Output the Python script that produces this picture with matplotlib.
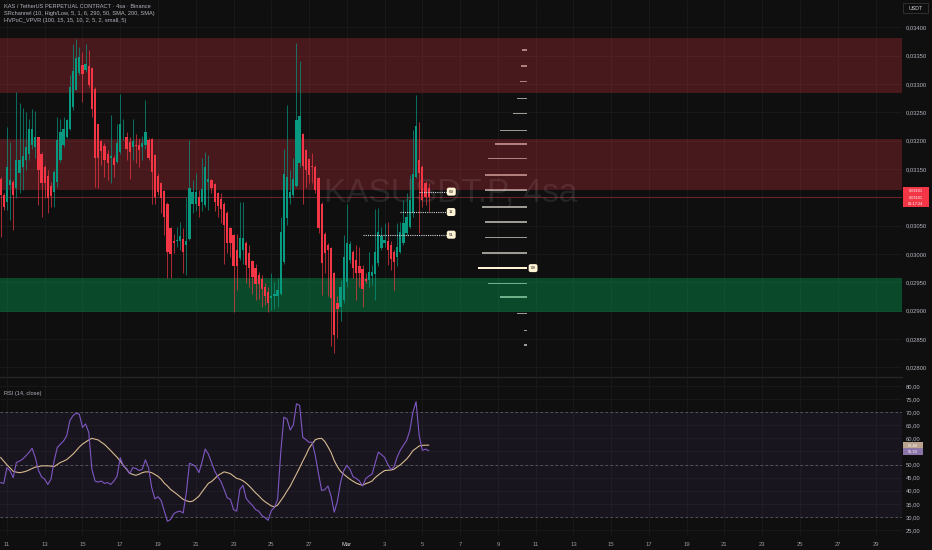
import numpy as np
import pandas as pd
import matplotlib
matplotlib.use("Agg")
import matplotlib.pyplot as plt
from matplotlib.patches import Rectangle
from matplotlib.lines import Line2D
from matplotlib.ticker import FuncFormatter

# KAS/USDT perp, 4h candles; prices in units of 0.00001 USDT
PRICE_UNIT = 1e-5
start_time = "2025-02-10 16:00"

opens = [3133, 3104, 3092, 3122, 3127, 3116, 3142, 3154, 3166, 3177,
         3192, 3189, 3206, 3177, 3153, 3138, 3120, 3110, 3127, 3166,
         3192, 3206, 3221, 3259, 3290, 3319, 3333, 3324, 3331, 3329,
         3292, 3229, 3200, 3190, 3176, 3169, 3169, 3163, 3180, 3206,
         3206, 3197, 3188, 3193, 3193, 3189, 3192, 3201, 3202, 3174,
         3138, 3125, 3111, 3089, 3046, 3023, 3022, 3023, 3027, 3016,
         3026, 3089, 3089, 3100, 3092, 3086, 3127, 3130, 3123, 3107,
         3097, 3089, 3072, 3046, 3033, 3007, 2992, 3007, 3020, 3001,
         2987, 2976, 2962, 2955, 2941, 2933, 2922, 2925, 2926, 2930,
         2985, 3063, 3098, 3104, 3120, 3160, 3211, 3184, 3167, 3155,
         3154, 3134, 3089, 3035, 3015, 3010, 2966, 2913, 2907, 2919,
         2951, 2989, 3004, 2989, 2979, 2974, 2956, 2954, 2961, 2965,
         2984, 3010, 3019, 3022, 3016, 3004, 2995, 3004, 3019, 3037,
         3048, 3072, 3136, 3166, 3153, 3125, 3116]
highs = [3136, 3107, 3224, 3197, 3130, 3286, 3266, 3257, 3251, 3239,
         3256, 3252, 3207, 3180, 3157, 3148, 3127, 3148, 3242, 3239,
         3241, 3239, 3316, 3371, 3380, 3366, 3357, 3371, 3360, 3330,
         3295, 3230, 3201, 3195, 3183, 3245, 3175, 3230, 3282, 3239,
         3216, 3207, 3239, 3212, 3204, 3209, 3272, 3204, 3204, 3177,
         3142, 3127, 3113, 3092, 3048, 3036, 3048, 3057, 3045, 3101,
         3201, 3130, 3142, 3113, 3169, 3180, 3175, 3133, 3125, 3110,
         3107, 3092, 3075, 3048, 3036, 3036, 3092, 3091, 3022, 3016,
         2989, 2983, 2969, 2963, 2948, 2942, 2966, 2951, 2957, 3066,
         3186, 3263, 3148, 3170, 3373, 3341, 3213, 3186, 3169, 3178,
         3157, 3136, 3092, 3039, 3019, 3013, 2969, 2925, 2954, 3034,
         3089, 3022, 3007, 3016, 3013, 2981, 2966, 3004, 2981, 3079,
         3081, 3048, 3054, 3057, 3022, 3007, 3054, 3057, 3095, 3107,
         3139, 3219, 3281, 3233, 3157, 3128, 3125]
lows = [3030, 3077, 3077, 3060, 3042, 3098, 3107, 3113, 3148, 3166,
        3186, 3169, 3086, 3066, 3098, 3072, 3083, 3083, 3119, 3163,
        3189, 3204, 3219, 3254, 3289, 3316, 3269, 3321, 3295, 3242,
        3119, 3116, 3157, 3136, 3130, 3125, 3136, 3160, 3177, 3201,
        3166, 3133, 3166, 3160, 3153, 3166, 3186, 3166, 3089, 3089,
        3104, 3072, 3033, 2957, 2957, 3001, 3013, 3007, 2966, 2963,
        3025, 3072, 3075, 3066, 3075, 3083, 3077, 3107, 3075, 3066,
        3054, 2983, 3001, 2995, 2898, 2936, 2989, 2983, 2948, 2942,
        2930, 2919, 2920, 2907, 2910, 2898, 2901, 2902, 2907, 2928,
        2983, 3051, 3089, 3101, 3119, 3154, 3089, 3119, 3125, 3125,
        3107, 3037, 2928, 2966, 2925, 2837, 2825, 2851, 2881, 2913,
        2942, 2984, 2957, 2919, 2942, 2907, 2948, 2942, 2945, 2919,
        2978, 3007, 3013, 2981, 2972, 2937, 2978, 3001, 3016, 3034,
        3045, 3066, 3134, 3037, 3083, 3087, 3075]
closes = [3104, 3083, 3154, 3130, 3104, 3166, 3166, 3173, 3189, 3220,
          3220, 3207, 3148, 3126, 3125, 3098, 3103, 3145, 3201, 3216,
          3220, 3236, 3295, 3323, 3345, 3347, 3317, 3336, 3298, 3256,
          3169, 3169, 3182, 3165, 3160, 3172, 3157, 3195, 3230, 3207,
          3186, 3180, 3200, 3190, 3184, 3195, 3216, 3169, 3145, 3101,
          3110, 3098, 3066, 3004, 3000, 3019, 3025, 3032, 3004, 3022,
          3116, 3109, 3109, 3085, 3114, 3154, 3133, 3116, 3092, 3085,
          3080, 3051, 3020, 3020, 2979, 2979, 3028, 3028, 2980, 2975,
          2959, 2947, 2947, 2939, 2925, 2913, 2926, 2930, 2936, 3039,
          3141, 3136, 3109, 3133, 3237, 3243, 3156, 3149, 3139, 3153,
          3113, 3045, 2984, 3001, 3007, 2922, 2857, 2902, 2942, 2995,
          3020, 3018, 2975, 2967, 2966, 2938, 2953, 2969, 2969, 3004,
          3039, 3031, 3024, 3007, 2991, 2985, 3013, 3038, 3054, 3066,
          3095, 3141, 3225, 3142, 3095, 3101, 3101]

# SRchannel zones (low, high)
red_zones = [(3285, 3382), (3114, 3202)]
green_zones = [(2897, 2958)]

# HVPoC_VPVR profile rows
vp_prices = [3360, 3332, 3304, 3274, 3248, 3218, 3194, 3168, 3139, 3113,
             3083, 3056, 3029, 3002, 2975, 2948, 2924, 2895, 2865, 2839]
vp_volume = [5, 6, 7, 10, 13, 26, 31, 38, 41, 41,
             44, 41, 41, 44, 48, 38, 26, 10, 3, 3]

# dotted high-volume levels with their tags
pivot_prices = [3110, 3074, 3034]
pivot_start = [133, 127, 115]
pivot_tags = ["69", "11", "51"]
poc_tag = "09"

rsi = [43.1, 42.8, 48.8, 47.6, 45.0, 50.8, 51.3, 52.1, 53.3, 54.6,
       56.2, 52.7, 47.9, 45.3, 44.4, 42.4, 44.4, 51.4, 56.5, 57.8,
       59.0, 61.0, 66.8, 68.7, 69.6, 69.2, 64.2, 65.5, 62.3, 48.2,
       43.7, 43.3, 43.7, 42.8, 43.1, 42.4, 43.7, 45.6, 52.6, 49.5,
       48.5, 46.5, 48.8, 48.5, 47.7, 48.2, 51.8, 48.8, 41.2, 36.9,
       37.7, 36.3, 32.2, 28.3, 29.0, 31.2, 31.9, 32.2, 31.5, 39.2,
       50.5, 50.0, 49.2, 46.9, 51.0, 55.9, 54.0, 50.8, 47.6, 45.3,
       43.5, 40.5, 37.3, 36.7, 32.8, 32.2, 40.5, 42.1, 37.1, 35.6,
       34.4, 32.8, 32.2, 30.5, 29.7, 28.7, 32.4, 33.6, 36.7, 54.6,
       68.1, 67.4, 63.2, 65.1, 73.2, 72.6, 60.4, 59.5, 58.5, 58.5,
       53.3, 46.5, 40.1, 40.4, 41.8, 37.9, 31.8, 36.0, 43.1, 47.6,
       49.7, 48.2, 45.3, 44.7, 43.7, 41.8, 44.6, 45.6, 46.3, 50.5,
       54.7, 53.8, 52.7, 50.1, 48.1, 49.1, 52.9, 55.5, 57.4, 59.2,
       62.9, 70.0, 74.0, 61.0, 55.4, 55.9, 55.3]
rsi_ma = [52.7, 51.3, 49.9, 48.7, 47.4, 47.1, 46.9, 47.1, 47.4, 47.9,
          48.5, 49.0, 49.2, 49.5, 49.5, 49.5, 49.4, 49.2, 50.0, 50.8,
          51.3, 51.9, 52.9, 54.0, 55.3, 56.7, 57.8, 58.6, 59.4, 60.0,
          59.7, 59.4, 58.5, 57.7, 56.5, 55.3, 54.0, 52.8, 51.3, 49.7,
          48.2, 46.7, 46.2, 45.9, 46.3, 46.9, 47.2, 47.2, 46.9, 46.2,
          45.5, 44.4, 42.9, 41.8, 40.5, 39.6, 38.7, 37.7, 36.7, 36.2,
          35.8, 36.0, 36.9, 37.9, 39.6, 41.2, 42.8, 43.5, 44.6, 45.8,
          46.5, 47.2, 46.9, 46.5, 45.6, 44.7, 44.4, 43.8, 42.9, 41.8,
          40.5, 39.2, 38.1, 36.8, 35.8, 35.0, 34.2, 33.8, 34.5, 36.2,
          37.9, 39.9, 41.7, 44.1, 46.4, 48.8, 51.3, 53.6, 56.2, 57.9,
          59.5, 59.9, 60.0, 58.8, 56.8, 54.6, 51.5, 49.2, 47.4, 46.3,
          45.3, 44.4, 43.6, 42.9, 42.4, 42.1, 42.7, 43.1, 43.7, 45.0,
          46.0, 46.9, 47.7, 47.8, 47.9, 48.2, 49.1, 49.9, 51.0, 52.1,
          53.6, 55.3, 56.2, 57.1, 57.3, 57.4, 57.4]

BG = "#0f0f0f"
GRID = "#1a1a1a"
TXT = "#b2b5be"
UP = "#089981"
DOWN = "#f23645"
FONT = "Liberation Sans"

o = np.array(opens) * PRICE_UNIT
h = np.array(highs) * PRICE_UNIT
l = np.array(lows) * PRICE_UNIT
c = np.array(closes) * PRICE_UNIT
n = len(c)
idx = np.arange(n)

times = pd.date_range(start_time, periods=n, freq="4h")
tick_dates = pd.date_range("2025-02-11", "2025-03-29", freq="2D")
tick_pos = np.asarray((tick_dates - times[0]) / pd.Timedelta("4h"))
tick_labels = ["Mar" if d.day == 1 else str(d.day) for d in tick_dates]

W, H = 932, 550
fig = plt.figure(figsize=(W / 100, H / 100), dpi=100, facecolor=BG)


def px_axes(left, top, right, bottom):
    return fig.add_axes([left / W, 1 - bottom / H, (right - left) / W, (bottom - top) / H])


ax = px_axes(0, 0, 902, 376)
axr = px_axes(0, 378, 902, 536)
xlim = (-0.2, 286.4)

for a in (ax, axr):
    a.set_facecolor(BG)
    for s in a.spines.values():
        s.set_visible(False)
    a.set_xlim(*xlim)
    a.set_xticks(tick_pos)
    a.grid(color=GRID, lw=0.6)
    a.set_axisbelow(True)
    a.yaxis.tick_right()
    a.tick_params(axis="y", length=0, pad=3, labelsize=4.2, labelcolor=TXT)

# labels that sit under the right-hand value boxes are hidden, as on the chart
rsi_px = lambda v: 386 + (80 - v) * 2.618
rsi_row_top = rsi_px(rsi_ma[-1])
rsi_row_bot = max(rsi_px(rsi[-1]), rsi_row_top + 6.6)


def price_fmt(v, pos):
    if abs(v - c[-1]) < 0.00015:
        return ""
    return f"{v:.5f}".replace(".", ",")


def rsi_fmt(v, pos):
    y = rsi_px(v)
    if rsi_row_top - 5 < y < rsi_row_bot + 5:
        return ""
    return f"{v:.2f}".replace(".", ",")


# ---- price pane ----
ax.set_ylim(0.027846, 0.034482)
ax.set_yticks(np.arange(0.0280, 0.03401, 0.0005))
ax.yaxis.set_major_formatter(FuncFormatter(price_fmt))
ax.tick_params(axis="x", length=0, labelbottom=False)

for lo, hi in red_zones:
    ax.axhspan(lo * PRICE_UNIT, hi * PRICE_UNIT, color=DOWN, alpha=0.25, lw=0, zorder=2)
    ax.axhline(lo * PRICE_UNIT, color=DOWN, alpha=0.25, lw=0.7, zorder=2)
for lo, hi in green_zones:
    ax.axhspan(lo * PRICE_UNIT, hi * PRICE_UNIT, color="#00e676", alpha=0.27, lw=0, zorder=2)

# volume profile
vp_p = np.array(vp_prices) * PRICE_UNIT
vp_v = np.array(vp_volume, dtype=float)
vp_right = 167.1
vp_w = vp_v / vp_v.max() * 15.3
poc = int(np.argmax(vp_v))
ax.barh(vp_p, vp_w, left=vp_right - vp_w, height=2.6e-5, color="#9c9a92", lw=0, zorder=1.5)
ax.barh(vp_p[poc], vp_w[poc], left=vp_right - vp_w[poc], height=3.4e-5,
        color="#fff3d6", lw=0, zorder=5)
ax.text(vp_right + 1.3, vp_p[poc], poc_tag, fontsize=3.2, family=FONT, color="#222222",
        va="center", ha="left", zorder=6,
        bbox=dict(boxstyle="round,pad=0.45", fc="#fff3d6", ec="none"))

# watermark
ax.text(143, 0.03108, "KASUSDT.P, 4sa", fontsize=24, family=FONT, color="white",
        alpha=0.09, ha="center", va="center", zorder=2.6)

# current price line
ax.axhline(c[-1], color=DOWN, alpha=0.4, lw=0.7, zorder=2.5)

# candles
colors = np.where(c >= o, UP, DOWN)
body_lo = np.minimum(o, c)
body_h = np.maximum(np.abs(c - o), 1.2e-5)
ax.vlines(idx, l, h, colors=colors, lw=0.7, alpha=0.7, zorder=3)
ax.bar(idx, body_h, bottom=body_lo, width=0.72, color=colors, lw=0, zorder=4)

# dotted levels + tags
tag_x = 142.0
for p, s, t in zip(pivot_prices, pivot_start, pivot_tags):
    ax.hlines(p * PRICE_UNIT, s, tag_x, colors="#d1d4dc", lw=0.8,
              linestyles=(0, (1, 1)), zorder=5)
    ax.text(tag_x + 0.4, p * PRICE_UNIT, t, fontsize=3.2, family=FONT, color="#222222",
            va="center", ha="left", zorder=6,
            bbox=dict(boxstyle="round,pad=0.45", fc="#fff3d6", ec="none"))

# ---- RSI pane ----
axr.set_ylim(22.7, 83.06)
axr.set_yticks(np.arange(25, 81, 5))
axr.yaxis.set_major_formatter(FuncFormatter(rsi_fmt))
axr.axhspan(30, 70, color="#7e57c2", alpha=0.09, lw=0, zorder=1)
for lvl in (70, 50, 30):
    axr.axhline(lvl, color="#787b86", alpha=0.7, lw=0.6, dashes=(3, 3), zorder=2)
axr.plot(idx, rsi, color="#7e57c2", lw=0.8, zorder=4)
axr.plot(idx, rsi_ma, color="#d6b98f", lw=0.8, zorder=3)
axr.set_xticklabels(tick_labels)
axr.tick_params(axis="x", length=0, pad=4, labelsize=4.2, labelcolor="#9598a1")
for t in axr.get_xticklabels():
    t.set_fontfamily(FONT)
    if t.get_text() == "Mar":
        t.set_color("#d1d4dc")
for a in (ax, axr):
    for t in a.get_yticklabels():
        t.set_fontfamily(FONT)

# pane separator
fig.add_artist(Line2D([0, 902 / W], [1 - 377 / H] * 2, color="#262626", lw=1.0))

# legends
legend_lines = ["KAS / TetherUS PERPETUAL CONTRACT · 4sa · Binance",
                "SRchannel (10, High/Low, 5, 1, 6, 290, 50, SMA, 200, SMA)",
                "HVPoC_VPVR (100, 15, 15, 10, 2, 5, 2, small, 5)"]
for i, txt in enumerate(legend_lines):
    fig.text(4 / W, 1 - (6 + 7.2 * i) / H, txt, fontsize=4.1, family=FONT,
             color=TXT, va="center", ha="left")
fig.text(4 / W, 1 - 393 / H, "RSI (14, close)", fontsize=4.1, family=FONT,
         color=TXT, va="center", ha="left")

# USDT box
fig.add_artist(Rectangle((903 / W, 1 - 13 / H), 25 / W, 10 / H, transform=fig.transFigure,
                         fc=BG, ec="#2e2e2e", lw=0.7))
fig.text(915.5 / W, 1 - 8 / H, "USDT", fontsize=3.8, family=FONT, color="#d1d4dc",
         ha="center", va="center")

# last price label
fig.add_artist(Rectangle((903 / W, 1 - 207 / H), 26 / W, 20 / H, transform=fig.transFigure,
                         fc=DOWN, ec="none"))
price_txt = f"{c[-1]:.5f}".replace(".", ",")
for i, txt in enumerate([price_txt, price_txt, "01:17:24"]):
    fig.text(916 / W, 1 - (190.6 + 6.5 * i) / H, txt, fontsize=2.8, family=FONT,
             color="white", ha="center", va="center")

# RSI value labels, stacked so the two rows don't collide
rows = ((rsi_row_top, rsi_ma[-1], "#b9a38f"), (rsi_row_bot, rsi[-1], "#8a74a8"))
for yc, val, fc in rows:
    fig.add_artist(Rectangle((903 / W, 1 - (yc + 3.3) / H), 20 / W, 6.6 / H,
                             transform=fig.transFigure, fc=fc, ec="none"))
    fig.text(913 / W, 1 - yc / H, f"{val:.2f}".replace(".", ","), fontsize=2.9,
             family=FONT, color="white", ha="center", va="center")

fig.savefig("out.png", dpi=100, facecolor=BG)
